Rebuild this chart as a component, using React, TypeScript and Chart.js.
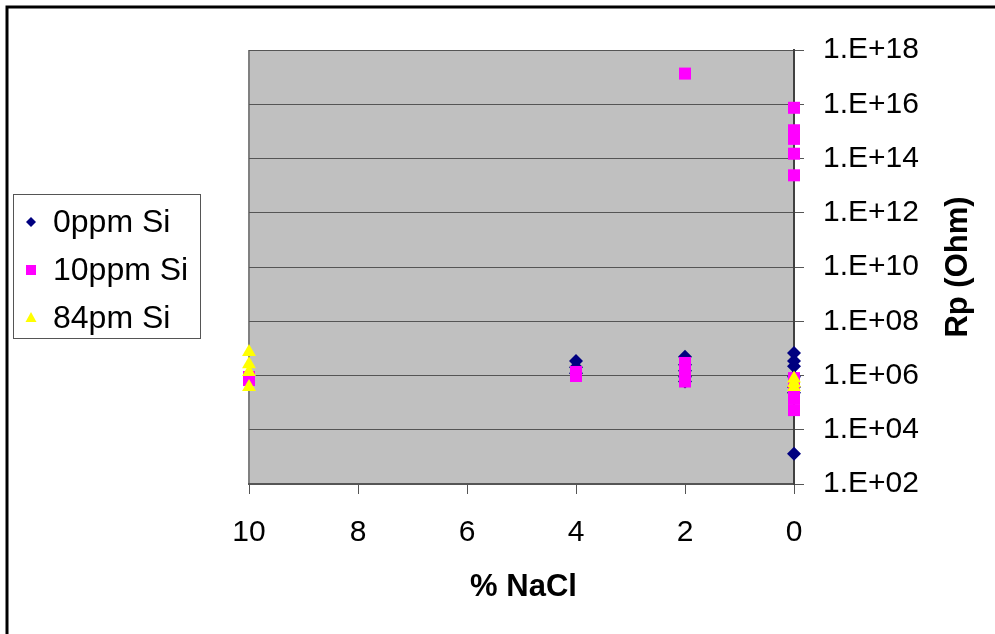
import React, { useEffect, useRef } from 'react';
import { Chart, registerables } from 'chart.js';

Chart.register(...registerables);

// ---- Data ----
const seriesNames = ['0ppm Si', '10ppm Si', '84pm Si'];

const nacl0ppm = [0, 0, 0, 0, 0, 0, 0, 2, 2, 2, 2, 2, 4, 4, 4];
const rp0ppm = [6.8e6, 3.4e6, 2.2e6, 9e5, 3.8e5, 2.3e5, 1.3e3, 4.9e6, 2.5e6, 1.5e6, 9e5, 6e5, 3.4e6, 2.0e6, 1.2e6];

const nacl10ppm = [0, 0, 0, 0, 0, 0, 0, 0, 0, 2, 2, 2, 2, 2, 4, 4, 10, 10];
const rp10ppm = [7.4e15, 1.1e15, 5.3e14, 1.5e14, 2.4e13, 8e5, 3.4e5, 1.4e5, 5.3e4, 1.35e17, 2.9e6, 1.5e6, 7.5e5, 6e5, 1.35e6, 9.6e5, 8.8e5, 6.8e5];

const nacl84ppm = [0, 0, 0, 10, 10, 10, 10];
const rp84ppm = [7.8e5, 5.3e5, 3.8e5, 7.3e6, 2.6e6, 1.35e6, 3.8e5];

const xTickValues = [10, 8, 6, 4, 2, 0];
const yTickValues = [1e2, 1e4, 1e6, 1e8, 1e10, 1e12, 1e14, 1e16, 1e18];
const yTickLabels = ['1.E+02', '1.E+04', '1.E+06', '1.E+08', '1.E+10', '1.E+12', '1.E+14', '1.E+16', '1.E+18'];

const xTitle = '% NaCl';
const yTitle = 'Rp (Ohm)';

const FONT = '"Liberation Sans", Arial, sans-serif';
const colors = ['#000080', '#FF00FF', '#FFFF00'];

function toPoints(xs: number[], ys: number[]) {
  return xs.map((x, i) => ({ x, y: ys[i] }));
}

const decorPlugin = {
  id: 'decor',
  beforeDraw(chart: any) {
    const { ctx, chartArea } = chart;
    ctx.save();
    ctx.fillStyle = '#FFFFFF';
    ctx.fillRect(0, 0, chart.width, chart.height);
    ctx.fillStyle = '#C0C0C0';
    ctx.fillRect(chartArea.left, chartArea.top, chartArea.right - chartArea.left, chartArea.bottom - chartArea.top);
    ctx.strokeStyle = '#808080';
    ctx.lineWidth = 2;
    ctx.beginPath();
    ctx.moveTo(chartArea.left, chartArea.top);
    ctx.lineTo(chartArea.left, chartArea.bottom);
    ctx.stroke();
    ctx.restore();
  },
  afterDraw(chart: any) {
    const { ctx, chartArea } = chart;
    ctx.save();
    // outer border
    ctx.strokeStyle = '#000000';
    ctx.lineWidth = 3;
    ctx.beginPath();
    ctx.moveTo(7, chart.height + 10);
    ctx.lineTo(7, 7);
    ctx.lineTo(chart.width + 10, 7);
    ctx.stroke();

    // legend
    ctx.strokeStyle = '#555555';
    ctx.lineWidth = 1;
    ctx.strokeRect(13.5, 194.5, 187, 144);
    const rows = [222, 270, 318];
    const mx = 31;
    ctx.fillStyle = colors[0];
    ctx.beginPath();
    ctx.moveTo(mx - 5, rows[0]);
    ctx.lineTo(mx, rows[0] - 5);
    ctx.lineTo(mx + 5, rows[0]);
    ctx.lineTo(mx, rows[0] + 5);
    ctx.closePath();
    ctx.fill();
    ctx.fillStyle = colors[1];
    ctx.fillRect(mx - 5, rows[1] - 5, 10, 10);
    ctx.fillStyle = colors[2];
    ctx.beginPath();
    ctx.moveTo(mx, rows[2] - 6);
    ctx.lineTo(mx + 5.5, rows[2] + 4);
    ctx.lineTo(mx - 5.5, rows[2] + 4);
    ctx.closePath();
    ctx.fill();

    ctx.fillStyle = '#000000';
    ctx.font = `32px ${FONT}`;
    ctx.textAlign = 'left';
    ctx.textBaseline = 'middle';
    seriesNames.forEach((n, i) => ctx.fillText(n, 53, rows[i] + 1));

    // axis titles
    ctx.font = `bold 31px ${FONT}`;
    ctx.textAlign = 'center';
    ctx.fillText(xTitle, (chartArea.left + chartArea.right) / 2 + 2, 587);
    ctx.translate(958, (chartArea.top + chartArea.bottom) / 2);
    ctx.rotate(-Math.PI / 2);
    ctx.fillText(yTitle, 0, 0);
    ctx.restore();
  },
};

export default function App() {
  const ref = useRef<HTMLCanvasElement | null>(null);

  useEffect(() => {
    if (!ref.current) return;
    const chart = new Chart(ref.current, {
      type: 'scatter',
      data: {
        datasets: [
          {
            label: seriesNames[0],
            data: toPoints(nacl0ppm, rp0ppm),
            pointStyle: 'rectRot',
            pointRadius: 7,
            backgroundColor: colors[0],
            borderColor: colors[0],
            borderWidth: 0,
            clip: false,
            order: 3,
          },
          {
            label: seriesNames[1],
            data: toPoints(nacl10ppm, rp10ppm),
            pointStyle: 'rect',
            pointRadius: 8.5,
            backgroundColor: colors[1],
            borderColor: colors[1],
            borderWidth: 0,
            clip: false,
            order: 2,
          },
          {
            label: seriesNames[2],
            data: toPoints(nacl84ppm, rp84ppm),
            pointStyle: 'triangle',
            pointRadius: 8,
            backgroundColor: colors[2],
            borderColor: colors[2],
            borderWidth: 0,
            clip: false,
            order: 1,
          },
        ],
      },
      options: {
        responsive: false,
        animation: false,
        devicePixelRatio: 1,
        layout: { padding: { left: 249, top: 50, right: 0, bottom: 0 } },
        plugins: {
          legend: { display: false },
          tooltip: { enabled: false },
        },
        scales: {
          x: {
            type: 'linear',
            reverse: true,
            min: 0,
            max: 10,
            afterBuildTicks: (scale: any) => {
              scale.ticks = xTickValues.map((v) => ({ value: v }));
            },
            afterFit: (scale: any) => {
              scale.height = 150;
            },
            grid: {
              drawOnChartArea: false,
              drawTicks: true,
              tickLength: 10,
              color: '#555555',
              lineWidth: 1,
            },
            border: { display: true, color: '#555555', width: 2 },
            ticks: {
              padding: 21,
              color: '#000000',
              font: { family: FONT, size: 30 },
              maxRotation: 0,
              autoSkip: false,
              callback: (v: any) => String(v),
            },
          },
          y: {
            type: 'logarithmic',
            position: 'right',
            min: 1e2,
            max: 1e18,
            afterBuildTicks: (scale: any) => {
              scale.ticks = yTickValues.map((v) => ({ value: v }));
            },
            afterFit: (scale: any) => {
              scale.width = 201;
            },
            grid: {
              drawOnChartArea: true,
              drawTicks: true,
              tickLength: 10,
              color: '#555555',
              lineWidth: 1,
            },
            border: { display: true, color: '#404040', width: 2 },
            ticks: {
              padding: 19,
              color: '#000000',
              font: { family: FONT, size: 30 },
              autoSkip: false,
              callback: (_v: any, i: number) => yTickLabels[i],
            },
          },
        },
      },
      plugins: [decorPlugin],
    } as any);
    return () => chart.destroy();
  }, []);

  return (
    <div style={{ position: 'fixed', left: 0, top: 0, width: 995, height: 634, background: '#fff' }}>
      <canvas ref={ref} width={995} height={634} style={{ display: 'block', width: 995, height: 634 }} />
    </div>
  );
}
